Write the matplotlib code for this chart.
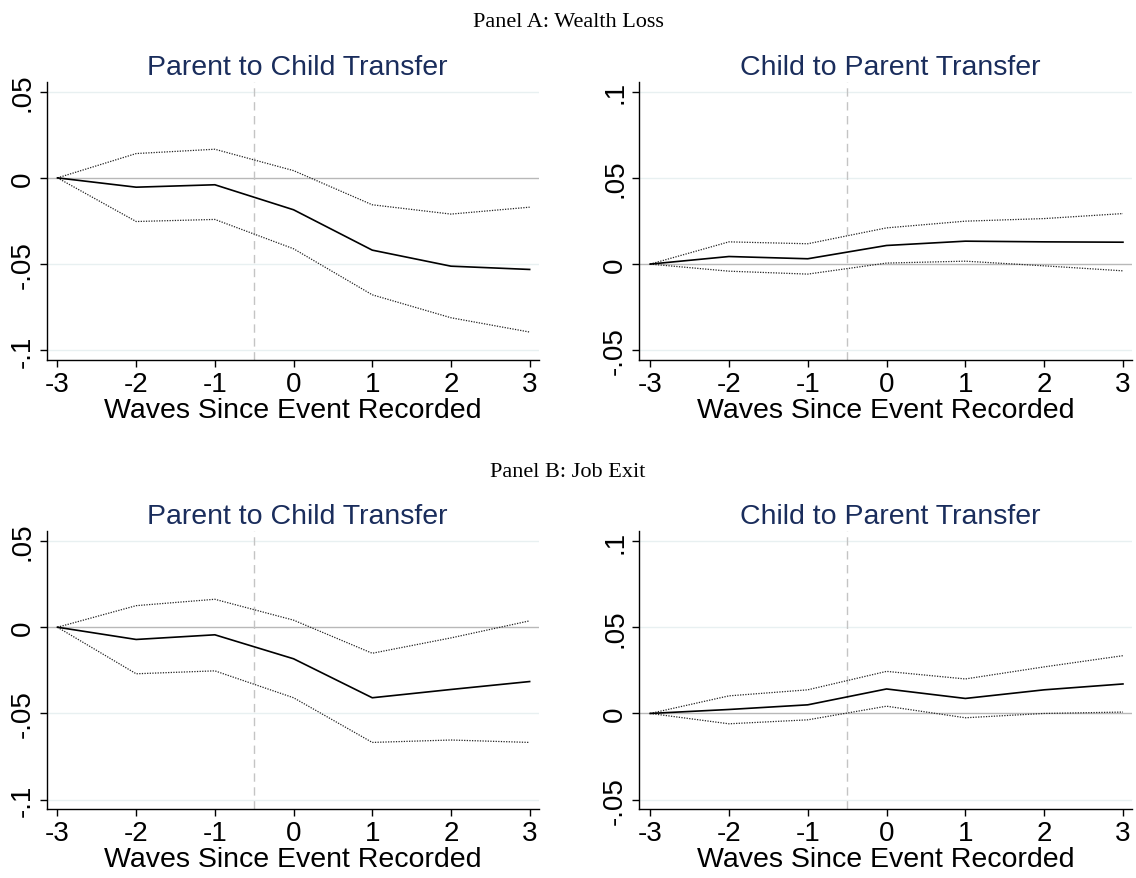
import matplotlib
matplotlib.use("Agg")
import matplotlib.pyplot as plt

plt.rcParams['font.family'] = ['Liberation Sans', 'DejaVu Sans']

waves = [-3, -2, -1, 0, 1, 2, 3]

# Panel A: wealth loss
a_p2c = [0, -0.0054, -0.0040, -0.0185, -0.0419, -0.0512, -0.0531]
a_p2c_hi = [0, 0.0141, 0.0166, 0.0042, -0.0156, -0.0210, -0.0170]
a_p2c_lo = [0, -0.0253, -0.0241, -0.0411, -0.0678, -0.0811, -0.0894]

a_c2p = [0, 0.0044, 0.0031, 0.0108, 0.0133, 0.0129, 0.0127]
a_c2p_hi = [0, 0.0129, 0.0118, 0.0210, 0.0249, 0.0264, 0.0293]
a_c2p_lo = [0, -0.0041, -0.0058, 0.0006, 0.0017, -0.0010, -0.0039]

# Panel B: job exit
b_p2c = [0, -0.0071, -0.0044, -0.0183, -0.0409, -0.0361, -0.0315]
b_p2c_hi = [0, 0.0125, 0.0162, 0.0041, -0.0151, -0.0062, 0.0037]
b_p2c_lo = [0, -0.0270, -0.0253, -0.0409, -0.0668, -0.0654, -0.0668]

b_c2p = [0, 0.0023, 0.0050, 0.0142, 0.0087, 0.0137, 0.0171]
b_c2p_hi = [0, 0.0102, 0.0137, 0.0244, 0.0200, 0.0270, 0.0335]
b_c2p_lo = [0, -0.0060, -0.0037, 0.0042, -0.0025, 0.0000, 0.0008]

p2c_ticks = [-0.1, -0.05, 0, 0.05]
p2c_labels = ['-.1', '-.05', '0', '.05']
c2p_ticks = [-0.05, 0, 0.05, 0.1]
c2p_labels = ['-.05', '0', '.05', '.1']

title_color = '#1a2d5c'
grid_color = '#e8f0f1'

fig = plt.figure(figsize=(11.36, 8.79), dpi=100)


def draw(rect, est, hi, lo, ticks, labels, ylim, title):
    ax = fig.add_axes(rect)
    for t in ticks:
        if t != 0:
            ax.axhline(t, color=grid_color, lw=1.0, zorder=0)
    ax.axhline(0, color='#b8b8b8', lw=1.0, zorder=1)
    ax.axvline(-0.5, color='#c4c4c4', lw=1.0, ls=(0, (6, 4)), zorder=1)
    ax.plot(waves, hi, color='#222222', lw=0.9, ls=(0, (1, 1.1)), zorder=2)
    ax.plot(waves, lo, color='#222222', lw=0.9, ls=(0, (1, 1.1)), zorder=2)
    ax.plot(waves, est, color='black', lw=1.2, zorder=3)
    ax.set_xlim(-3.137, 3.115)
    ax.set_ylim(*ylim)
    ax.set_xticks(waves)
    ax.set_xticklabels([str(w) for w in waves])
    ax.set_yticks(ticks)
    ax.set_yticklabels(labels, rotation=90, va='center')
    for s in ['top', 'right']:
        ax.spines[s].set_visible(False)
    for s in ['left', 'bottom']:
        ax.spines[s].set_linewidth(1.0)
    ax.tick_params(direction='out', length=5, width=1.0, labelsize=20, pad=3)
    ax.set_xlabel('Waves Since Event Recorded', fontsize=20.5, labelpad=0)
    ax.set_title(title, color=title_color, fontsize=20.5, pad=6, x=0.509)
    return ax


top_h = 0.3159
draw([0.0411, 0.5897, 0.4331, top_h], a_p2c, a_p2c_hi, a_p2c_lo,
     p2c_ticks, p2c_labels, (-0.1054, 0.0556), 'Parent to Child Transfer')
draw([0.5628, 0.5897, 0.4337, top_h], a_c2p, a_c2p_hi, a_c2p_lo,
     c2p_ticks, c2p_labels, (-0.0554, 0.1056), 'Child to Parent Transfer')
draw([0.0411, 0.0785, 0.4331, top_h], b_p2c, b_p2c_hi, b_p2c_lo,
     p2c_ticks, p2c_labels, (-0.1054, 0.0556), 'Parent to Child Transfer')
draw([0.5628, 0.0785, 0.4337, top_h], b_c2p, b_c2p_hi, b_c2p_lo,
     c2p_ticks, c2p_labels, (-0.0554, 0.1056), 'Child to Parent Transfer')

fig.text(0.5, 1 - 27 / 879, 'Panel A: Wealth Loss', ha='center', va='baseline',
         fontsize=16, family=['Liberation Serif', 'DejaVu Serif'])
fig.text(0.5, 1 - 477 / 879, 'Panel B: Job Exit', ha='center', va='baseline',
         fontsize=16, family=['Liberation Serif', 'DejaVu Serif'])

fig.savefig('out.png', dpi=100, facecolor='white')
